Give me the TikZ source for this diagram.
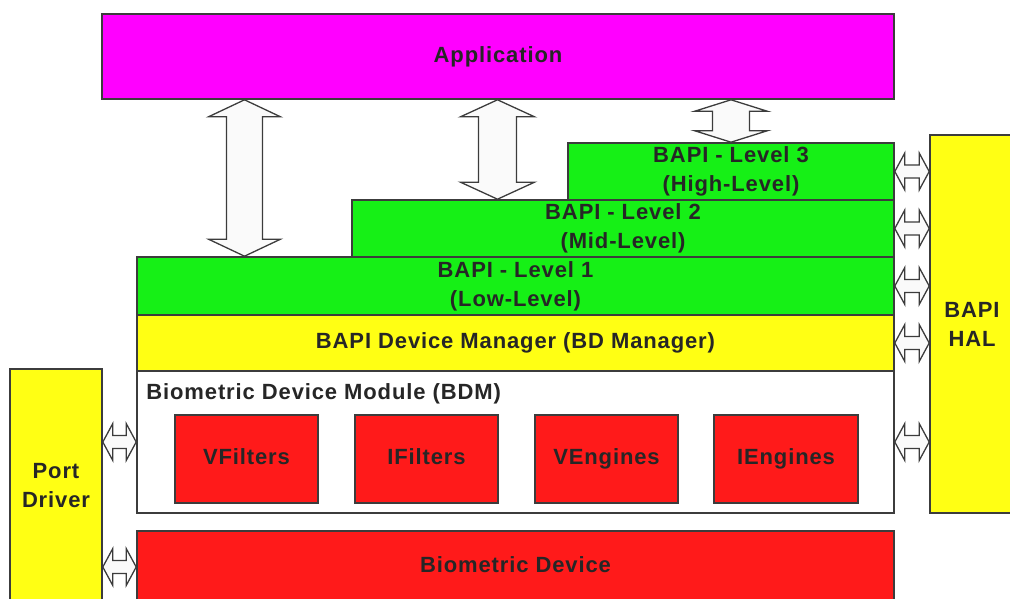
\documentclass[tikz,border=0pt]{standalone}
\usepackage{fontspec}
\setmainfont{Liberation Sans}[LetterSpace=4]
\usetikzlibrary{calc}

\definecolor{appmag}{RGB}{255,0,255}
\definecolor{lvlgreen}{RGB}{22,240,22}
\definecolor{mgryellow}{RGB}{255,255,20}
\definecolor{devred}{RGB}{255,26,26}
\definecolor{edge}{RGB}{60,60,60}
\definecolor{arrowfill}{RGB}{250,250,250}

\tikzset{
  labelfont/.style={font=\fontsize{22}{29}\selectfont\bfseries, text=black!85},
  box/.style={draw=edge, line width=1.6pt, inner sep=0pt, rectangle,
    labelfont, align=center},
  onelinebox/.style={box, text height=16pt, text depth=4.5pt},
  % block double arrow: #1 shaft half width, #2 head half width, #3 head length
  dblarrow/.style n args={3}{draw=edge, fill=arrowfill, line width=1.3pt,
    line join=miter,
    to path={
      -- ($(\tikztostart)!#3!(\tikztotarget)!#2!90:(\tikztotarget)$)
      -- ($(\tikztostart)!#3!(\tikztotarget)!#1!90:(\tikztotarget)$)
      -- ($(\tikztotarget)!#3!(\tikztostart)!#1!-90:(\tikztostart)$)
      -- ($(\tikztotarget)!#3!(\tikztostart)!#2!-90:(\tikztostart)$)
      -- (\tikztotarget)
      -- ($(\tikztotarget)!#3!(\tikztostart)!#2!90:(\tikztostart)$)
      -- ($(\tikztotarget)!#3!(\tikztostart)!#1!90:(\tikztostart)$)
      -- ($(\tikztostart)!#3!(\tikztotarget)!#1!-90:(\tikztotarget)$)
      -- ($(\tikztostart)!#3!(\tikztotarget)!#2!-90:(\tikztotarget)$)
      -- cycle}},
  smallarrow/.style={dblarrow={6.5pt}{18.5pt}{10pt}}
}

\begin{document}
\begin{tikzpicture}[x=1pt, y=-1pt]
  \useasboundingbox (0,0) rectangle (1010,599);
  \clip (0,0) rectangle (1010,599);

  % top layer
  \node[onelinebox, fill=appmag, minimum width=792pt, minimum height=85pt] (app) at (498,56.5) {Application};

  % BAPI levels
  \node[box, fill=lvlgreen, minimum width=326pt, minimum height=57pt] (l3) at (731,171.5) {BAPI - Level 3\\(High-Level)};
  \node[box, fill=lvlgreen, minimum width=542pt, minimum height=57pt] (l2) at (623,228.5) {BAPI - Level 2\\(Mid-Level)};
  \node[box, fill=lvlgreen, minimum width=757pt, minimum height=58pt] (l1) at (515.5,286) {BAPI - Level 1\\(Low-Level)};

  % device manager and module
  \node[onelinebox, fill=mgryellow, minimum width=757pt, minimum height=56pt] (bdmgr) at (515.5,343) {BAPI Device Manager (BD Manager)};
  \node[box, fill=white, minimum width=757pt, minimum height=142pt] (bdm) at (515.5,442) {};
  \node[labelfont, anchor=base west, inner sep=0pt]
    (bdmlabel) at ([xshift=10pt, yshift=-29pt]bdm.north west) {Biometric Device Module (BDM)};

  \node[onelinebox, fill=devred, minimum width=143pt, minimum height=88pt] (vf) at (246.5,459) {VFilters};
  \node[onelinebox, fill=devred, minimum width=143pt, minimum height=88pt] (if) at (426.5,459) {IFilters};
  \node[onelinebox, fill=devred, minimum width=143pt, minimum height=88pt] (ve) at (606.5,459) {VEngines};
  \node[onelinebox, fill=devred, minimum width=144pt, minimum height=88pt] (ie) at (786,459) {IEngines};

  % hardware device
  \node[onelinebox, fill=devred, minimum width=757pt, minimum height=72pt] (bdev) at (515.5,567) {Biometric Device};

  % side blocks
  \node[box, fill=mgryellow, minimum width=92pt, minimum height=234pt] (port) at (56,486) {Port\\Driver};
  \node[box, fill=mgryellow, minimum width=84pt, minimum height=378pt] (hal) at (972,324) {BAPI\\HAL};

  % vertical interface arrows
  \coordinate (a1s) at (244.5,0 |- app.south);
  \coordinate (a1t) at (244.5,0 |- l1.north);
  \coordinate (a2s) at (497.5,0 |- app.south);
  \coordinate (a2t) at (497.5,0 |- l2.north);
  \coordinate (a3s) at (l3.north |- app.south);
  \draw[dblarrow={18pt}{36pt}{17pt}] (a1s) to (a1t);
  \draw[dblarrow={19pt}{37pt}{17pt}] (a2s) to (a2t);
  \draw[dblarrow={18.5pt}{36.5pt}{11.5pt}] (a3s) to (l3.north);

  % HAL interface arrows
  \draw[smallarrow] (l3.east) to (l3.east -| hal.west);
  \draw[smallarrow] (l2.east) to (l2.east -| hal.west);
  \draw[smallarrow] (l1.east) to (l1.east -| hal.west);
  \draw[smallarrow] (bdmgr.east) to (bdmgr.east -| hal.west);
  \draw[smallarrow] (bdm.east) to (bdm.east -| hal.west);

  % port driver interface arrows
  \draw[smallarrow] (port.east |- bdm.west) to (bdm.west);
  \draw[smallarrow] (port.east |- bdev.west) to (bdev.west);
\end{tikzpicture}
\end{document}
